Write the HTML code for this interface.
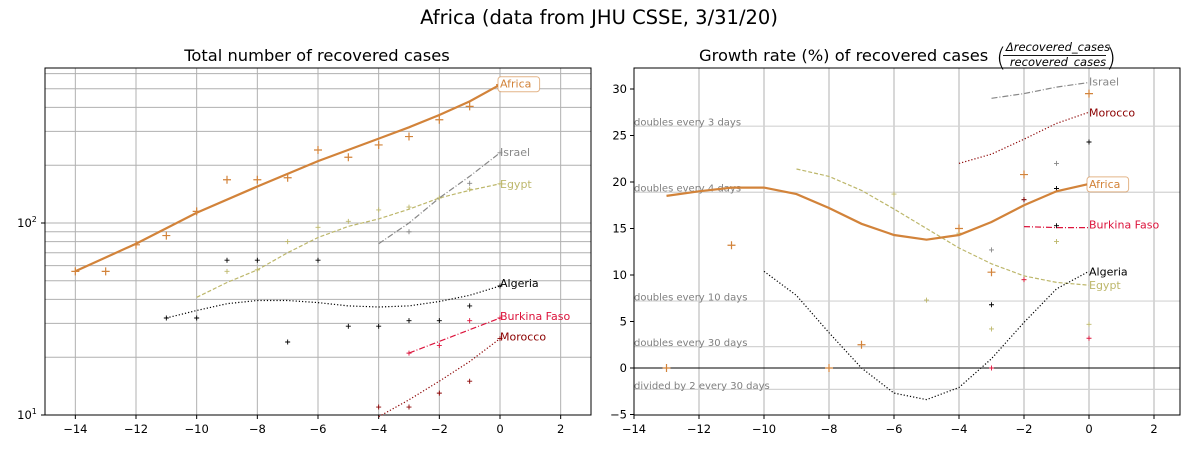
<!DOCTYPE html>
<html><head><meta charset="utf-8"><style>
body{margin:0;background:#fff;}
svg{font-family:"DejaVu Sans","Liberation Sans",sans-serif;}
</style></head><body>
<svg id="fig" width="1197" height="450" viewBox="0 0 1197 450">
<text x="599" y="24" font-size="19.5" text-anchor="middle">Africa (data from JHU CSSE, 3/31/20)</text>
<text x="317" y="61" font-size="16.3" text-anchor="middle">Total number of recovered cases</text>
<g>
<text x="699" y="61" font-size="16.3">Growth rate (%) of recovered cases</text>
<text x="996" y="66" font-size="26" font-weight="100">(</text>
<text x="1058" y="51" font-size="11.5" font-style="italic" text-anchor="middle">Δrecovered_cases</text>
<rect x="1003" y="55" width="103" height="0.9" fill="#000"/>
<text x="1058" y="66" font-size="11.5" font-style="italic" text-anchor="middle">recovered_cases</text>
<text x="1106" y="66" font-size="26" font-weight="100">)</text>
</g>
<g id="left"></g>
<g id="right"></g>
</svg>
<script>
// ---------- data ----------
const days = [-14,-13,-12,-11,-10,-9,-8,-7,-6,-5,-4,-3,-2,-1,0];
const xTicks = [-14,-12,-10,-8,-6,-4,-2,0,2];
// Left: totals (smoothed lines)
const africaLineX = [-14,-12,-10,-8,-6,-4,-3,-2,-1,0];
const africaLine = [56,78,113,155,210,275,315,365,430,525];
const africaPts = [56,56,77,86,115,168,168,172,240,220,255,282,345,405,525];
const egyptLineX = [-10,-9,-8,-7,-6,-5,-4,-3,-2,-1,0];
const egyptLine = [41,49,57,70,84,96,105,118,135,148,160];
const egyptPtsX = [-9,-8,-7,-6,-5,-4,-3,-2,-1,0];
const egyptPts = [56,57,80,95,102,117,121,135,150,160];
const israelLineX = [-4,-3,-2,-1,0];
const israelLine = [78,100,135,175,232];
const israelPtsX = [-3,-1,0];
const israelPts = [90,161,232];
const algeriaLineX = [-11,-10,-9,-8,-7,-6,-5,-4,-3,-2,-1,0];
const algeriaLine = [32,35,38,39.5,39.5,38.5,37,36.5,37,39,42,47];
const algeriaPtsX = [-11,-10,-9,-8,-7,-6,-5,-4,-3,-2,-1,0];
const algeriaPts = [32,32,64,64,24,64,29,29,31,31,37,47];
const burkinaLineX = [-3,0];
const burkinaLine = [21,32];
const burkinaPtsX = [-3,-2,-1,0];
const burkinaPts = [21,23,31,32];
const moroccoLineX = [-4,-3,-2,-1,0];
const moroccoLine = [9.8,12,15,19,25];
const moroccoPtsX = [-4,-3,-2,-1,0];
const moroccoPts = [11,11,13,15,25];
// Right: growth rates
const gAfricaX = [-13,-12,-11,-10,-9,-8,-7,-6,-5,-4,-3,-2,-1,0];
const gAfrica = [18.5,19,19.4,19.4,18.7,17.2,15.5,14.3,13.8,14.3,15.7,17.5,19,19.8];
const gAfricaPtsX = [-13,-11,-8,-7,-4,-3,-2,0];
const gAfricaPts = [0,13.2,0,2.5,15,10.3,20.8,29.5];
const gIsraelX = [-3,-2,-1,0];
const gIsrael = [29,29.5,30.2,30.7];
const gIsraelPtsX = [-3,-1];
const gIsraelPts = [12.7,22];
const gMoroccoX = [-4,-3,-2,-1,0];
const gMorocco = [22,23,24.6,26.3,27.5];
const gMoroccoPtsX = [-2];
const gMoroccoPts = [18.1];
const gBurkinaX = [-2,-1,0];
const gBurkina = [15.2,15.1,15.1];
const gBurkinaPtsX = [-3,-2,0];
const gBurkinaPts = [0,9.5,3.2];
const gEgyptX = [-9,-8,-7,-6,-5,-4,-3,-2,-1,0];
const gEgypt = [21.4,20.6,19.1,17.1,15,12.9,11.2,9.9,9.2,8.9];
const gEgyptPtsX = [-6,-5,-4,-3,-2,-1,0];
const gEgyptPts = [18.7,7.3,14.5,4.2,9.5,13.6,4.7];
const gAlgeriaX = [-10,-9,-8,-7,-6,-5,-4,-3,-2,-1,0];
const gAlgeria = [10.4,7.8,3.8,0,-2.7,-3.4,-2.1,1,4.9,8.5,10.4];
const gAlgeriaPtsX = [-3,-2,-1,-1,0];
const gAlgeriaPts = [6.8,18.1,19.3,15.3,24.3];
const refLabels = ["doubles every 3 days","doubles every 4 days","doubles every 10 days","doubles every 30 days","divided by 2 every 30 days"];
const refValues = [26,18.9,7.2,2.3,-2.3];
const rYTicks = [-5,0,5,10,15,20,25,30];

const NS="http://www.w3.org/2000/svg";
function mk(p,t,a){const e=document.createElementNS(NS,t);for(const k in a)e.setAttribute(k,a[k]);p.appendChild(e);return e;}
// ---------- left axes ----------
const L={x0:45,x1:591,y0:68,y1:415};
const lx=v=>L.x0+(v+15)/18*(L.x1-L.x0);
const ly=v=>415-192*(Math.log10(v)-1);
const gl=document.getElementById('left');
for(const d of [20,30,40,50,60,70,80,90,200,300,400,500,600]){const e=mk(gl,'line',{x1:L.x0,x2:L.x1,y1:ly(d),y2:ly(d),stroke:'#b0b0b0','stroke-width':1});

}
for(const d of [100]){const e=mk(gl,'line',{x1:L.x0,x2:L.x1,y1:ly(d),y2:ly(d),stroke:'#b0b0b0','stroke-width':1});

}
for(const t of xTicks){const e=mk(gl,'line',{x1:lx(t),x2:lx(t),y1:L.y0,y2:L.y1,stroke:'#b0b0b0','stroke-width':1});


mk(gl,'line',{x1:lx(t),x2:lx(t),y1:L.y1,y2:L.y1+4,stroke:'#000'});
const tx=mk(gl,'text',{x:lx(t),y:L.y1+18,'font-size':11.5,'text-anchor':'middle'});tx.textContent=(t<0?'−':'')+Math.abs(t);

}
for(const [v,lab] of [[10,'1'],[100,'2']]){mk(gl,'line',{x1:L.x0-4,x2:L.x0,y1:ly(v),y2:ly(v),stroke:'#000'});
const tx=mk(gl,'text',{x:L.x0-18,y:ly(v)+4,'font-size':11.5,'text-anchor':'middle'});tx.innerHTML='10<tspan dy="-5" font-size="8">'+lab+'</tspan>';

}
mk(gl,'rect',{x:L.x0,y:L.y0,width:L.x1-L.x0,height:L.y1-L.y0,fill:'none',stroke:'#000'});
// ---------- right axes ----------
const R={x0:634,x1:1180,y0:68,y1:415};
const rx=v=>634+(v+14)*32.5;
const ry=v=>368-9.3*v;
const gr=document.getElementById('right');
for(const t of xTicks){const e=mk(gr,'line',{x1:rx(t),x2:rx(t),y1:R.y0,y2:R.y1,stroke:'#b0b0b0'});


mk(gr,'line',{x1:rx(t),x2:rx(t),y1:R.y1,y2:R.y1+4,stroke:'#000'});
const tx=mk(gr,'text',{x:rx(t),y:R.y1+18,'font-size':11.5,'text-anchor':'middle'});tx.textContent=(t<0?'−':'')+Math.abs(t);

}
refValues.forEach((v,i)=>{const e=mk(gr,'line',{x1:R.x0,x2:R.x1,y1:ry(v),y2:ry(v),stroke:'#d3d3d3','stroke-width':1.2});


const tx=mk(gr,'text',{x:R.x0,y:ry(v)-0.5,'font-size':10,fill:'#808080'});tx.textContent=refLabels[i];

});
{const e=mk(gr,'line',{x1:R.x0,x2:R.x1,y1:ry(0),y2:ry(0),stroke:'#000','stroke-width':1});

}
for(const t of rYTicks){mk(gr,'line',{x1:R.x0-4,x2:R.x0,y1:ry(t),y2:ry(t),stroke:'#000'});
const tx=mk(gr,'text',{x:R.x0-7,y:ry(t)+4,'font-size':11.5,'text-anchor':'end'});tx.textContent=(t<0?'−':'')+Math.abs(t);

}
// ---------- series helpers ----------
function line(g,xs,ys,fx,fy,col,w,dash,name){const d=xs.map((x,i)=>(i?'L':'M')+fx(x).toFixed(1)+','+fy(ys[i]).toFixed(1)).join('');
const e=mk(g,'path',{d:d,fill:'none',stroke:col,'stroke-width':w,'stroke-dasharray':dash||'none'});

}
function pts(g,xs,ys,fx,fy,col,s,name){xs.forEach((x,i)=>{const X=fx(x),Y=fy(ys[i]);
const e=mk(g,'path',{d:`M${X-s},${Y}H${X+s}M${X},${Y-s}V${Y+s}`,stroke:col,'stroke-width':s>3?1.2:0.9});

});}
function label(g,x,y,txt,col,box,name){if(box){const e=mk(g,'rect',{x:x-2,y:y-11,width:txt.length*6.6+2,height:15,rx:3,fill:'#fff',stroke:col,'stroke-opacity':0.6});

}
const t=mk(g,'text',{x:x,y:y,'font-size':11,fill:col});t.textContent=txt;

}
const cA='#d2833a',cE='#bdb76b',cI='#888888',cAl='#000000',cB='#dc143c',cM='#8b0000';
// left series
line(gl,egyptLineX,egyptLine,lx,ly,cE,1.2,'4,2','egypt-line');
pts(gl,egyptPtsX,egyptPts,lx,ly,cE,2.5,'egypt-point');
line(gl,israelLineX,israelLine,lx,ly,cI,1.2,'6,2,1,2','israel-line');
pts(gl,israelPtsX,israelPts,lx,ly,cI,2.5,'israel-point');
line(gl,algeriaLineX,algeriaLine,lx,ly,cAl,1.2,'1.2,2','algeria-line');
pts(gl,algeriaPtsX,algeriaPts,lx,ly,cAl,2.5,'algeria-point');
line(gl,burkinaLineX,burkinaLine,lx,ly,cB,1.2,'6,2,1,2','burkina-line');
pts(gl,burkinaPtsX,burkinaPts,lx,ly,cB,2.5,'burkina-point');
line(gl,moroccoLineX,moroccoLine,lx,ly,cM,1.2,'1.2,2','morocco-line');
pts(gl,moroccoPtsX,moroccoPts,lx,ly,cM,2.5,'morocco-point');
line(gl,africaLineX,africaLine,lx,ly,cA,2.2,null,'africa-line');
pts(gl,days,africaPts,lx,ly,cA,4,'africa-point');
label(gl,lx(0),ly(africaLine[africaLine.length-1])+3,'Africa',cA,true,'africa-label');
label(gl,lx(0),ly(232)+3,'Israel',cI,false,'israel-label');
label(gl,lx(0),ly(160)+4,'Egypt',cE,false,'egypt-label');
label(gl,lx(0),ly(47)+1,'Algeria',cAl,false,'algeria-label');
label(gl,lx(0),ly(32)+2,'Burkina Faso',cB,false,'burkina-label');
label(gl,lx(0),ly(25)+2,'Morocco',cM,false,'morocco-label');
// right series
line(gr,gEgyptX,gEgypt,rx,ry,cE,1.2,'4,2','egypt-growth-line');
pts(gr,gEgyptPtsX,gEgyptPts,rx,ry,cE,2.5,'egypt-growth-point');
line(gr,gIsraelX,gIsrael,rx,ry,cI,1.2,'6,2,1,2','israel-growth-line');
pts(gr,gIsraelPtsX,gIsraelPts,rx,ry,cI,2.5,'israel-growth-point');
line(gr,gAlgeriaX,gAlgeria,rx,ry,cAl,1.2,'1.2,2','algeria-growth-line');
pts(gr,gAlgeriaPtsX,gAlgeriaPts,rx,ry,cAl,2.5,'algeria-growth-point');
line(gr,gBurkinaX,gBurkina,rx,ry,cB,1.2,'6,2,1,2','burkina-growth-line');
pts(gr,gBurkinaPtsX,gBurkinaPts,rx,ry,cB,2.5,'burkina-growth-point');
line(gr,gMoroccoX,gMorocco,rx,ry,cM,1.2,'1.2,2','morocco-growth-line');
pts(gr,gMoroccoPtsX,gMoroccoPts,rx,ry,cM,2.5,'morocco-growth-point');
line(gr,gAfricaX,gAfrica,rx,ry,cA,2.2,null,'africa-growth-line');
pts(gr,gAfricaPtsX,gAfricaPts,rx,ry,cA,4,'africa-growth-point');
label(gr,rx(0),ry(30.7)+3,'Israel',cI,false,'israel-growth-label');
label(gr,rx(0),ry(27.5)+4,'Morocco',cM,false,'morocco-growth-label');
label(gr,rx(0),ry(19.8)+4,'Africa',cA,true,'africa-growth-label');
label(gr,rx(0),ry(15.1)+1,'Burkina Faso',cB,false,'burkina-growth-label');
label(gr,rx(0),ry(10.4)+4,'Algeria',cAl,false,'algeria-growth-label');
label(gr,rx(0),ry(8.9)+4,'Egypt',cE,false,'egypt-growth-label');
mk(gr,'rect',{x:R.x0,y:R.y0,width:R.x1-R.x0,height:R.y1-R.y0,fill:'none',stroke:'#000'});
</script>
</body></html>
